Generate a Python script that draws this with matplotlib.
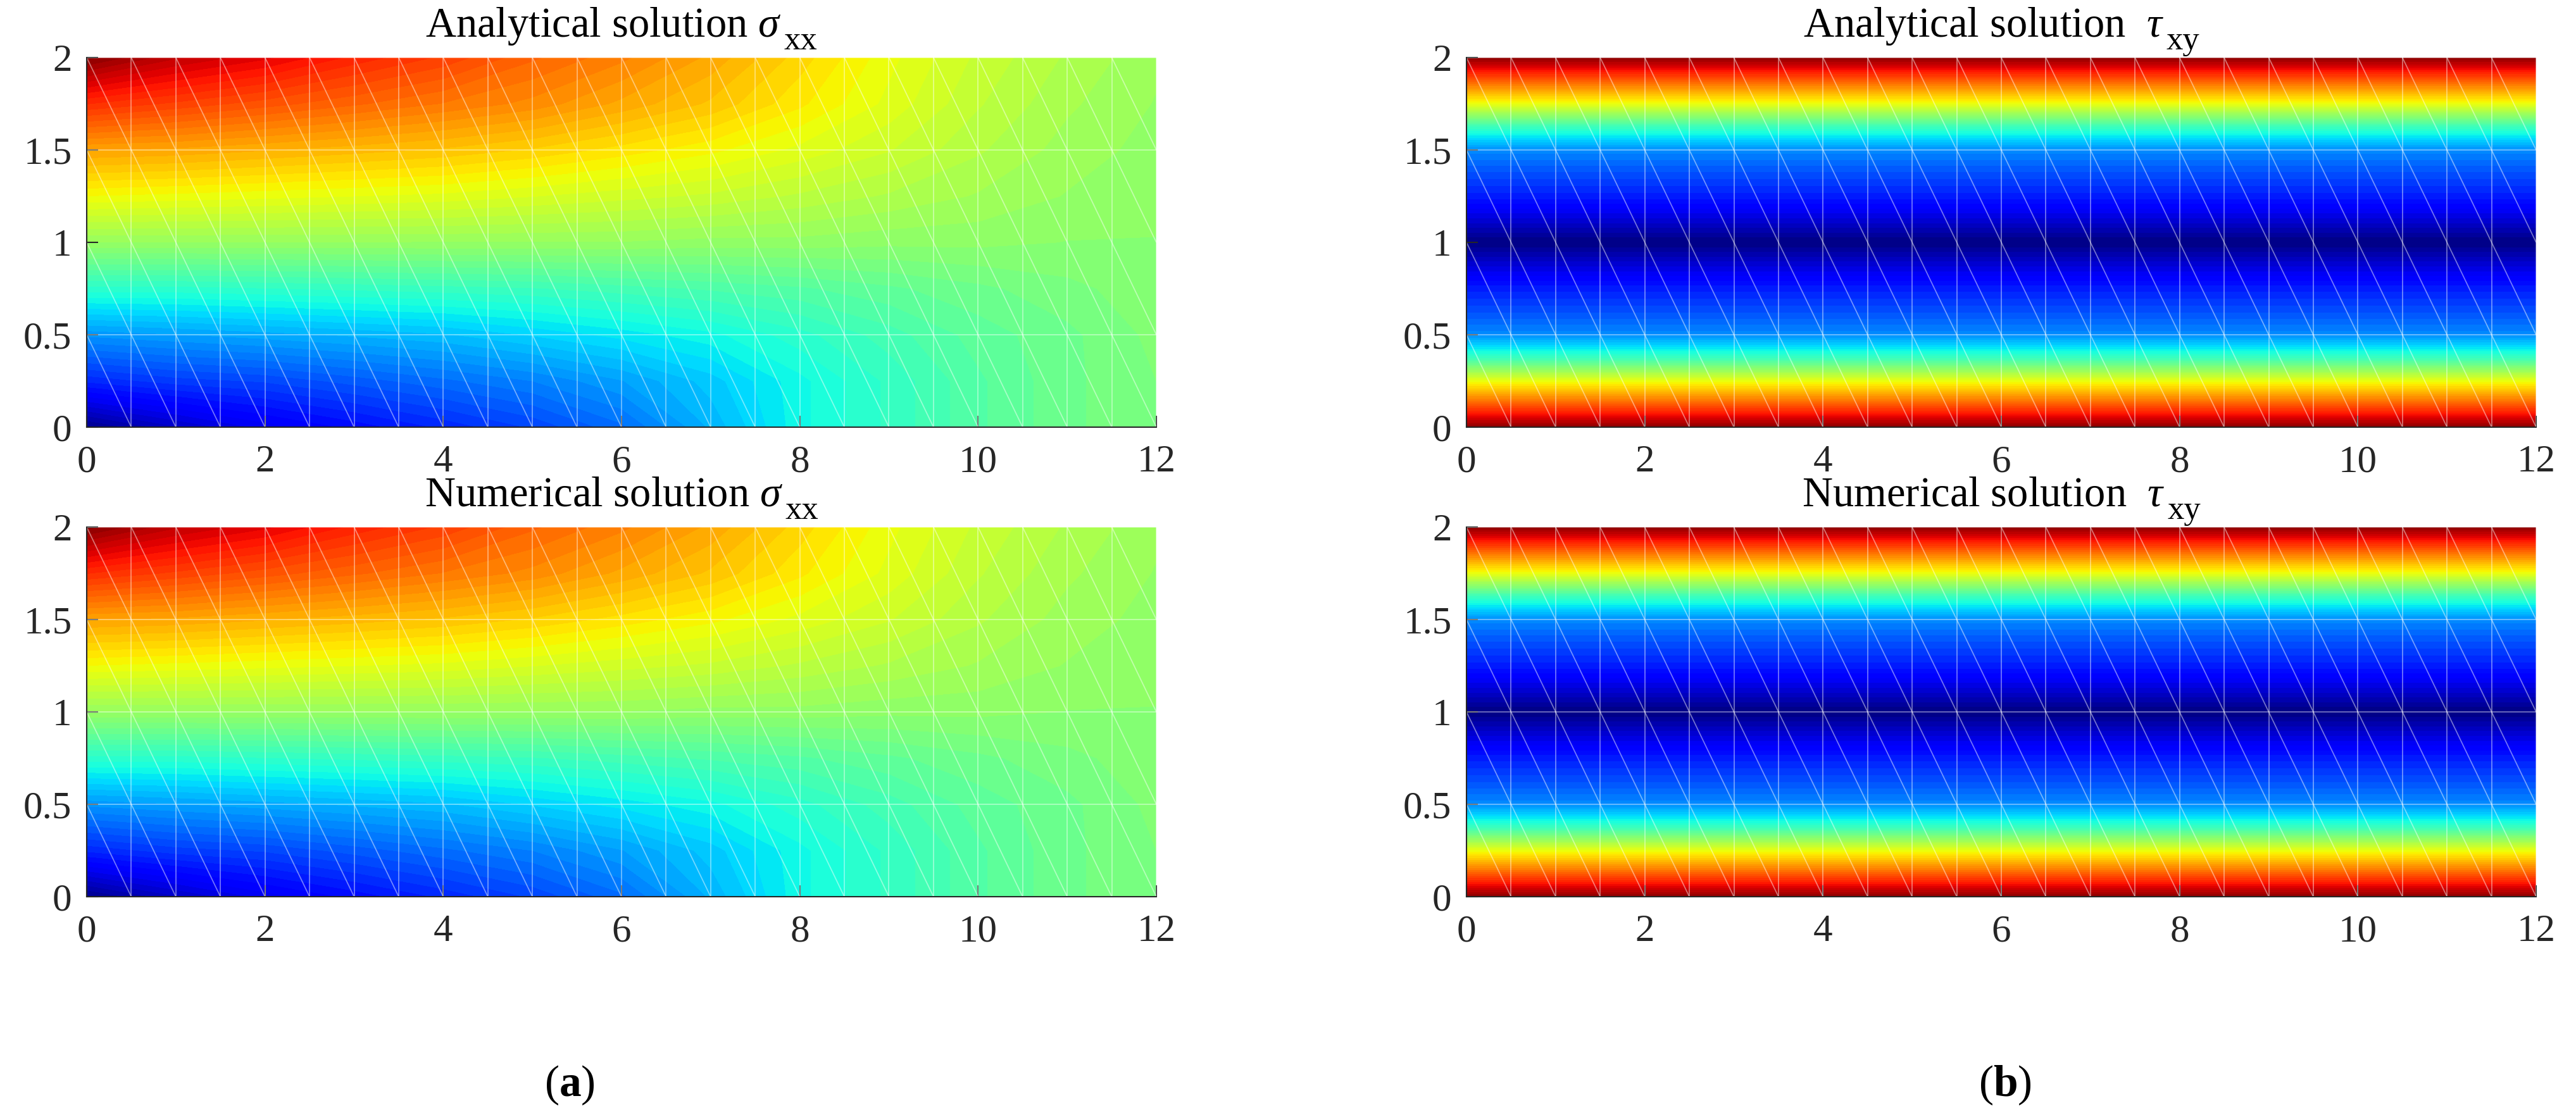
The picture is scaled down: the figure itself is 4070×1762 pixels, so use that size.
import numpy as np
import matplotlib
matplotlib.use("Agg")
import matplotlib.pyplot as plt
from matplotlib.collections import LineCollection
from matplotlib.transforms import IdentityTransform

plt.rcParams['font.family'] = ['Liberation Serif', 'DejaVu Serif']
plt.rcParams['mathtext.fontset'] = 'custom'
plt.rcParams['mathtext.rm'] = 'Liberation Serif'
plt.rcParams['mathtext.it'] = 'Liberation Serif:italic'
plt.rcParams['mathtext.bf'] = 'Liberation Serif:bold'

# =========================
# Data (normalised colour level, 0 = min, 1 = max)
# =========================
# sigma_xx sampled at x = 0..12 (step 1), one list per y level
sxx_x = [0, 1, 2, 3, 4, 5, 6, 7, 8, 9, 10, 11, 12]
sxx_y = [0, 0.25, 0.5, 0.75, 1.0, 1.25, 1.5, 1.75, 2.0]

sxx_y000 = [0.01, 0.06, 0.10, 0.13, 0.16, 0.19, 0.23, 0.30, 0.37, 0.41, 0.45, 0.48, 0.50]
sxx_y025 = [0.16, 0.18, 0.19, 0.21, 0.23, 0.25, 0.28, 0.32, 0.37, 0.41, 0.45, 0.48, 0.50]
sxx_y050 = [0.27, 0.28, 0.29, 0.30, 0.31, 0.33, 0.35, 0.37, 0.40, 0.43, 0.46, 0.48, 0.505]
sxx_y075 = [0.40, 0.40, 0.405, 0.41, 0.415, 0.42, 0.43, 0.44, 0.45, 0.465, 0.48, 0.495, 0.51]
sxx_y100 = [0.53, 0.53, 0.53, 0.53, 0.53, 0.53, 0.53, 0.525, 0.525, 0.52, 0.52, 0.515, 0.515]
sxx_y125 = [0.64, 0.635, 0.63, 0.625, 0.62, 0.61, 0.60, 0.59, 0.575, 0.56, 0.545, 0.53, 0.52]
sxx_y150 = [0.735, 0.73, 0.72, 0.71, 0.70, 0.685, 0.665, 0.645, 0.62, 0.595, 0.565, 0.54, 0.525]
sxx_y175 = [0.86, 0.84, 0.82, 0.80, 0.78, 0.76, 0.73, 0.70, 0.66, 0.62, 0.58, 0.55, 0.53]
sxx_y200 = [0.99, 0.94, 0.91, 0.87, 0.84, 0.80, 0.77, 0.73, 0.68, 0.63, 0.59, 0.56, 0.535]

# tau_xy is constant along x: one profile over y (step 0.125)
tau_x = [0, 12]
tau_y = [0, 0.125, 0.25, 0.375, 0.5, 0.625, 0.75, 0.875, 1.0,
         1.125, 1.25, 1.375, 1.5, 1.625, 1.75, 1.875, 2.0]
tau_profile = [0.99, 0.81, 0.63, 0.42, 0.26, 0.20, 0.15, 0.075, 0.0,
               0.075, 0.15, 0.20, 0.26, 0.42, 0.63, 0.81, 0.99]

# numerical solutions are visually identical to the analytical ones
sxx_rows = [sxx_y000, sxx_y025, sxx_y050, sxx_y075, sxx_y100,
            sxx_y125, sxx_y150, sxx_y175, sxx_y200]

# element mesh (drawn as faint white lines)
mesh_x = np.arange(0, 12.01, 0.5)
mesh_y = [0, 0.5, 1.0, 1.5, 2.0]
hlines_ana = [0.5, 1.5, 2.0]        # y = 1 edge not visible in analytical plots
hlines_num = [0.5, 1.0, 1.5, 2.0]

titles = [
    ("Analytical solution $\\sigma$", "xx"),
    ("Analytical solution  $\\tau$", "xy"),
    ("Numerical solution $\\sigma$", "xx"),
    ("Numerical solution  $\\tau$", "xy"),
]

# =========================
# Figure
# =========================
W, H = 4070, 1762
fig = plt.figure(figsize=(W / 100, H / 100), dpi=100)

col_x = [137 / W, 2317 / W]
row_y = [1 - 675 / H, 1 - 1417 / H]
aw, ah = 1690 / W, 584 / H

levels = np.linspace(0, 1, 65)

fields = [
    (sxx_x, sxx_y, np.array(sxx_rows)),
    (tau_x, tau_y, np.tile(np.array(tau_profile)[:, None], (1, len(tau_x)))),
]


def mesh_segments(hl):
    segs = []
    for x in mesh_x[1:]:
        segs.append([(x, 0), (x, 2)])
    for y in hl:
        segs.append([(0, y), (12, y)])
    for j in range(len(mesh_y) - 1):
        for i in range(len(mesh_x) - 1):
            segs.append([(mesh_x[i], mesh_y[j + 1]), (mesh_x[i + 1], mesh_y[j])])
    return segs


axes = []
for r in range(2):
    for c in range(2):
        ax = fig.add_axes([col_x[c], row_y[r], aw, ah])
        fx, fy, Z = fields[c]
        X, Y = np.meshgrid(fx, fy)
        ax.contourf(X, Y, Z, levels=levels, cmap='jet', vmin=0, vmax=1,
                    antialiased=False)
        hl = hlines_ana if r == 0 else hlines_num
        ax.add_collection(LineCollection(mesh_segments(hl), colors='white',
                                         linewidths=1.3, alpha=0.45))
        ax.set_xlim(0, 12)
        ax.set_ylim(0, 2)
        ax.set_xticks([0, 2, 4, 6, 8, 10, 12])
        ax.set_yticks([0, 0.5, 1, 1.5, 2])
        ax.set_yticklabels(["0", "0.5", "1", "1.5", "2"])
        for s in ['top', 'right']:
            ax.spines[s].set_visible(False)
        for s in ['left', 'bottom']:
            ax.spines[s].set_color('#262626')
            ax.spines[s].set_linewidth(1.5)
            ax.spines[s].set_zorder(5)
        ax.tick_params(direction='in', length=13, width=1.5, labelsize=44,
                       colors='#262626')
        ax.tick_params(axis='y', pad=17)
        ax.tick_params(axis='x', pad=20)
        axes.append(ax)

# titles with MATLAB-style dropped subscript
renderer = fig.canvas.get_renderer()
for ax, (main, sub) in zip(axes, titles):
    bb = ax.get_window_extent(renderer)
    t1 = fig.text(0, 0, main, fontsize=48, color='black', ha='left',
                  va='baseline', transform=IdentityTransform())
    t2 = fig.text(0, 0, sub, fontsize=38, color='black', ha='left',
                  va='baseline', transform=IdentityTransform())
    w1 = t1.get_window_extent(renderer).width
    w2 = t2.get_window_extent(renderer).width
    x0 = (bb.x0 + bb.x1) / 2 - (w1 + w2 + 4) / 2
    yb = bb.y1 + 33
    t1.set_position((x0, yb))
    t2.set_position((x0 + w1 + 4, yb - 20))

fig.text(900 / W, 1 - 1715 / H, "($\\mathbf{a}$)", fontsize=50,
         ha='center', va='center')
fig.text(3168 / W, 1 - 1715 / H, "($\\mathbf{b}$)", fontsize=50,
         ha='center', va='center')

fig.savefig("out.png", dpi=100)
